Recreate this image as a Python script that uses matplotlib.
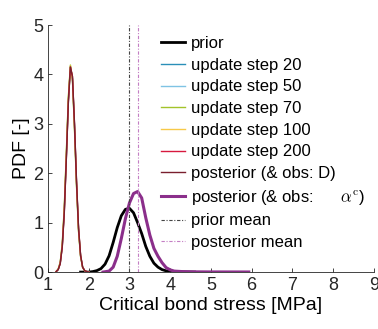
import matplotlib
matplotlib.use("Agg")
import matplotlib.pyplot as plt

plt.rcParams['font.family'] = ['Liberation Sans', 'DejaVu Sans']
plt.rcParams['mathtext.fontset'] = 'cm'

# narrow peaks: update steps and posterior (& obs: D)
peak_x = [1.20, 1.25, 1.30, 1.35, 1.40, 1.45, 1.50, 1.55, 1.60, 1.65,
          1.70, 1.75, 1.80, 1.85, 1.90, 1.95, 2.00]
step20_y = [0.01, 0.05, 0.18, 0.53, 1.25, 2.33, 3.48, 4.15, 3.93, 2.97,
            1.80, 0.86, 0.33, 0.10, 0.03, 0.01, 0.0]
step50_y = [0.01, 0.06, 0.19, 0.55, 1.27, 2.36, 3.50, 4.16, 3.92, 2.95,
            1.78, 0.85, 0.32, 0.10, 0.03, 0.01, 0.0]
step70_y = [0.01, 0.06, 0.20, 0.58, 1.32, 2.42, 3.55, 4.19, 3.90, 2.90,
            1.74, 0.82, 0.31, 0.09, 0.03, 0.01, 0.0]
step100_y = [0.01, 0.06, 0.19, 0.56, 1.29, 2.39, 3.52, 4.17, 3.91, 2.93,
             1.77, 0.84, 0.32, 0.10, 0.03, 0.01, 0.0]
step200_y = [0.01, 0.05, 0.17, 0.51, 1.21, 2.29, 3.44, 4.15, 3.96, 3.01,
             1.84, 0.89, 0.34, 0.10, 0.03, 0.01, 0.0]
postD_y = [0.01, 0.05, 0.17, 0.51, 1.21, 2.29, 3.44, 4.15, 3.96, 3.01,
           1.84, 0.89, 0.34, 0.10, 0.03, 0.01, 0.0]

# prior
prior_x = [1.80, 2.00, 2.10, 2.20, 2.30, 2.40, 2.50, 2.60, 2.70, 2.80,
           2.90, 3.00, 3.10, 3.20, 3.30, 3.40, 3.50, 3.60, 3.70, 3.80,
           3.90, 4.00, 4.20, 4.60]
prior_y = [0.0, 0.0, 0.01, 0.03, 0.07, 0.16, 0.33, 0.60, 0.90, 1.14,
           1.27, 1.29, 1.20, 1.00, 0.78, 0.52, 0.32, 0.18, 0.10, 0.05,
           0.025, 0.012, 0.004, 0.0]

# posterior (& obs: alpha^c)
post_x = [2.35, 2.50, 2.60, 2.70, 2.80, 2.90, 3.00, 3.10, 3.20, 3.30,
          3.40, 3.50, 3.60, 3.70, 3.80, 3.90, 4.00, 4.10, 4.30, 4.60,
          5.00, 5.93]
post_y = [0.0, 0.02, 0.10, 0.32, 0.68, 1.08, 1.40, 1.59, 1.63, 1.50,
          1.10, 0.75, 0.48, 0.32, 0.19, 0.09, 0.045, 0.02, 0.01, 0.005,
          0.003, 0.002]

prior_mean = 3.0
post_mean = 3.2

fig = plt.figure(figsize=(3.78, 3.29), dpi=100)
ax = fig.add_axes([0.127, 0.173, 0.862, 0.751])

dashdot = (0, (3, 1.5, 1, 1.5))
thin = 1.0
ax.plot(prior_x, prior_y, color='black', lw=2.0, label='prior')
ax.plot(peak_x, step20_y, color='#2a8fb8', lw=thin, label='update step 20')
ax.plot(peak_x, step50_y, color='#7fc3e4', lw=thin, label='update step 50')
ax.plot(peak_x, step70_y, color='#a3c32a', lw=thin, label='update step 70')
ax.plot(peak_x, step100_y, color='#f7c948', lw=thin, label='update step 100')
ax.plot(peak_x, step200_y, color='#d7193e', lw=thin, label='update step 200')
ax.plot(peak_x, postD_y, color='#7a1f2e', lw=thin,
        label='posterior (& obs: D)')
ax.plot(post_x, post_y, color='#8b2f8b', lw=2.2,
        label='posterior (& obs:      $\\alpha^{\\mathrm{c}}$)')
ax.axvline(prior_mean, color='#444444', lw=0.8, ls=dashdot, label='prior mean')
ax.axvline(post_mean, color='#c47fc4', lw=0.8, ls=dashdot,
           label='posterior mean')

ax.set_xlim(1, 9)
ax.set_ylim(0, 5)
ax.set_xticks(range(1, 10))
ax.set_yticks(range(0, 6))
ax.spines['top'].set_visible(False)
ax.spines['right'].set_visible(False)
for s in ['left', 'bottom']:
    ax.spines[s].set_color('#262626')
    ax.spines[s].set_linewidth(0.6)
ax.tick_params(direction='in', length=3, width=0.6, labelsize=13,
               colors='#262626')
ax.set_xlabel('Critical bond stress [MPa]', fontsize=14, labelpad=2)
ax.set_ylabel('PDF [-]', fontsize=14, labelpad=2)

ax.legend(loc='upper left', bbox_to_anchor=(0.348, 0.955), frameon=False,
          fontsize=12, handlelength=1.4, handletextpad=0.35,
          labelspacing=0.4, borderpad=0, borderaxespad=0)

fig.savefig('out.png', dpi=100)
